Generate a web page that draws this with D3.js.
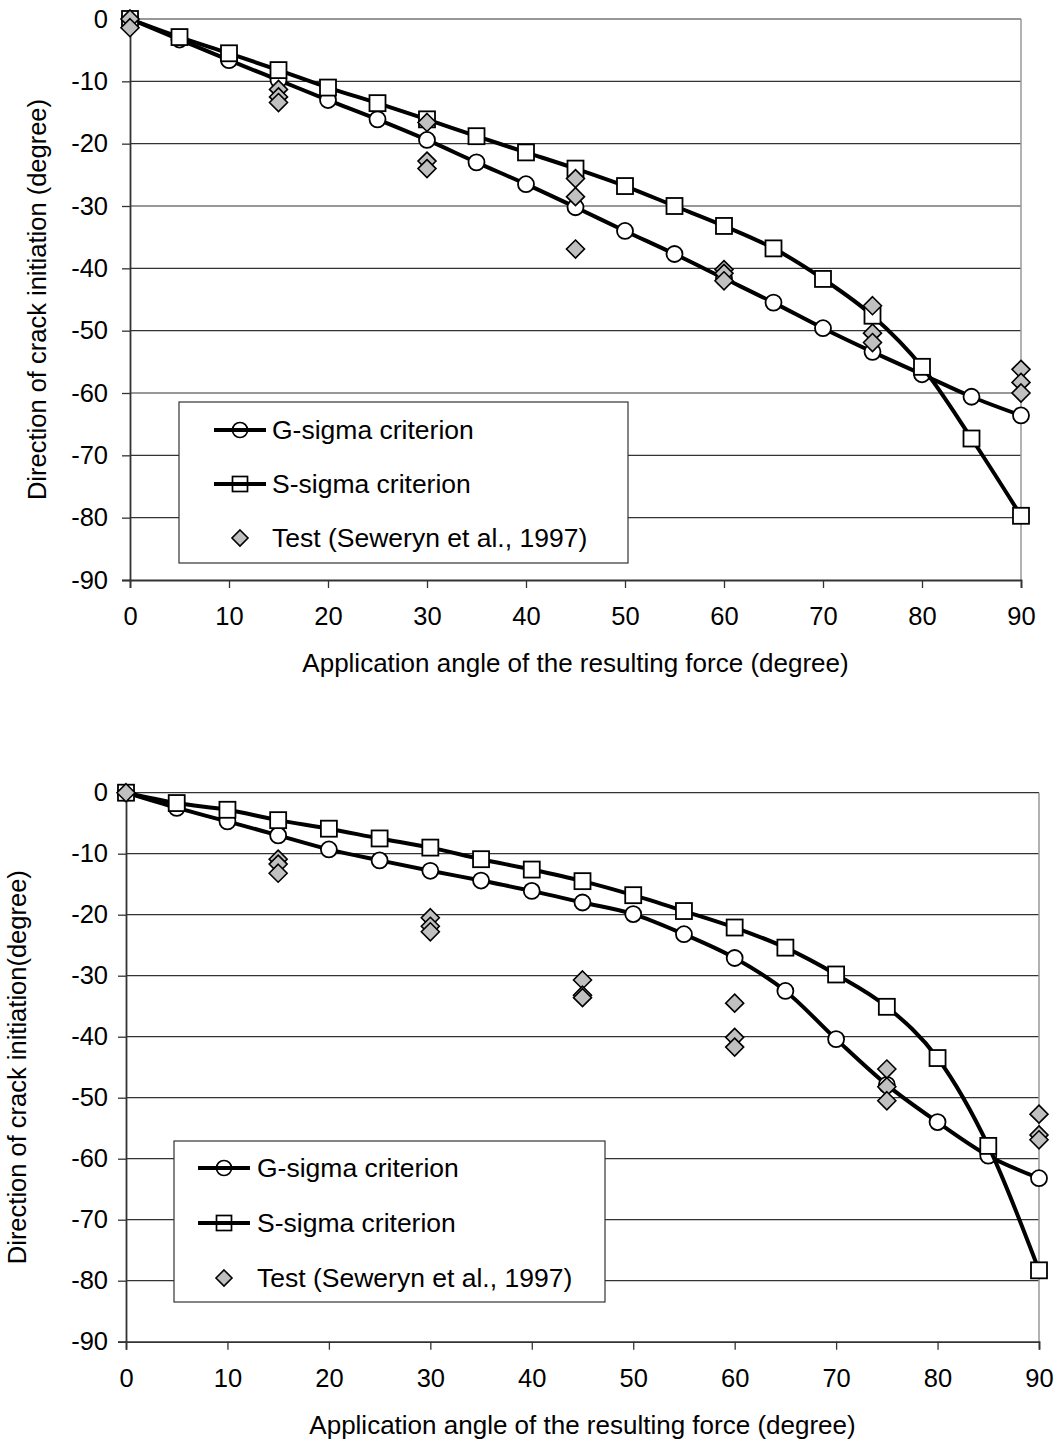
<!DOCTYPE html>
<html>
<head>
<meta charset="utf-8">
<script src="https://cdn.jsdelivr.net/npm/d3@7"></script>
<style>
  body { margin: 0; background: #fff; }
  svg text { font-family: "Liberation Sans", Arial, sans-serif; fill: #000; }
</style>
</head>
<body>
<svg id="chart" width="1061" height="1445"></svg>
<script>
// application angles (degree)
const angles = [0, 5, 10, 15, 20, 25, 30, 35, 40, 45, 50, 55, 60, 65, 70, 75, 80, 85, 90];
const xTicks = [0, 10, 20, 30, 40, 50, 60, 70, 80, 90];
const yTicks = [0, -10, -20, -30, -40, -50, -60, -70, -80, -90];

// upper chart
const gSigmaTop = [0, -3.3, -6.6, -9.8, -13.0, -16.1, -19.4, -23.0, -26.5, -30.2, -34.0, -37.7, -41.6, -45.5, -49.6, -53.4, -57.0, -60.6, -63.6];
const sSigmaTop = [0, -2.9, -5.5, -8.2, -11.0, -13.5, -16.1, -18.8, -21.4, -24.0, -26.8, -30.0, -33.2, -36.8, -41.7, -47.6, -55.8, -67.3, -79.7];
const testAnglesTop = [0, 0, 15, 15, 15, 30, 30, 30, 45, 45, 45, 60, 60, 60, 75, 75, 75, 90, 90, 90];
const testValuesTop = [0, -1.4, -11.3, -12.5, -13.4, -16.6, -22.8, -24.0, -25.6, -28.5, -36.9, -40.2, -40.8, -42.0, -46.0, -50.4, -51.9, -56.2, -58.3, -60.0];

// lower chart
const gSigmaBot = [0, -2.5, -4.7, -7.0, -9.3, -11.1, -12.8, -14.4, -16.1, -18.0, -19.9, -23.2, -27.1, -32.5, -40.4, -47.9, -54.0, -59.5, -63.2];
const sSigmaBot = [0, -1.7, -2.8, -4.5, -5.9, -7.5, -9.0, -10.9, -12.6, -14.5, -16.8, -19.4, -22.1, -25.4, -29.8, -35.1, -43.5, -57.9, -78.3];
const testAnglesBot = [0, 15, 15, 15, 30, 30, 30, 45, 45, 45, 60, 60, 60, 75, 75, 75, 90, 90, 90];
const testValuesBot = [0, -10.9, -11.7, -13.2, -20.5, -21.9, -22.8, -30.7, -33.2, -33.6, -34.5, -40.1, -41.7, -45.3, -48.2, -50.5, -52.7, -56.1, -56.9];

const legendLabels = ['G-sigma criterion', 'S-sigma criterion', 'Test (Seweryn et al., 1997)'];

const svg = d3.select('#chart');

function diamondPath(cx, cy, r) {
    return `M${cx},${cy - r}L${cx + r},${cy}L${cx},${cy + r}L${cx - r},${cy}Z`;
}

function drawChart(cfg) {
    const x = d3.scaleLinear().domain([0, 90]).range([cfg.left, cfg.right]);
    const y = d3.scaleLinear().domain([-90, 0]).range([cfg.bottom, cfg.top]);
    const g = svg.append('g');

    // gridlines
    g.selectAll('.grid')
        .data(yTicks.filter(d => d !== -90))
        .enter().append('line')
        .attr('x1', cfg.left).attr('x2', cfg.right)
        .attr('y1', d => y(d)).attr('y2', d => y(d))
        .attr('stroke', '#333').attr('stroke-width', 1.2);

    // right border of plot
    g.append('line')
        .attr('x1', cfg.right).attr('x2', cfg.right)
        .attr('y1', cfg.top).attr('y2', cfg.bottom)
        .attr('stroke', '#999').attr('stroke-width', 1.5);

    // axes (plain hyphen for negatives, like the original)
    const yAxis = d3.axisLeft(y).tickValues(yTicks).tickSize(8).tickPadding(cfg.yPad).tickFormat(d => String(d));
    const gy = g.append('g').attr('transform', `translate(${cfg.left},0)`).call(yAxis);
    const xAxis = d3.axisBottom(x).tickValues(xTicks).tickSize(8).tickPadding(19).tickFormat(d => String(d));
    const gx = g.append('g').attr('transform', `translate(0,${cfg.bottom})`).call(xAxis);
    [gx, gy].forEach(a => {
        a.select('.domain').attr('stroke', '#333').attr('stroke-width', 1.8);
        a.selectAll('.tick line').attr('stroke', '#333').attr('stroke-width', 1.3);
        a.selectAll('text').attr('font-size', 25.5).attr('font-family', '"Liberation Sans", Arial, sans-serif').attr('fill', '#000');
    });
    gx.selectAll('text').attr('dy', '0.71em');

    // axis titles
    g.append('text')
        .attr('x', (cfg.left + cfg.right) / 2)
        .attr('y', cfg.bottom + 92)
        .attr('text-anchor', 'middle')
        .attr('font-size', 26)
        .text('Application angle of the resulting force (degree)');
    g.append('text')
        .attr('transform', `translate(${cfg.yTitleX},${(cfg.top + cfg.bottom) / 2}) rotate(-90)`)
        .attr('text-anchor', 'middle')
        .attr('font-size', 25.5)
        .text(cfg.yTitle);

    const line = d3.line()
        .x((d, i) => x(angles[i]))
        .y(d => y(d))
        .curve(d3.curveCardinal.tension(0));

    // G-sigma
    g.append('path').attr('d', line(cfg.gSigma))
        .attr('fill', 'none').attr('stroke', '#000').attr('stroke-width', 4);
    g.selectAll('.gm').data(cfg.gSigma).enter().append('circle')
        .attr('cx', (d, i) => x(angles[i])).attr('cy', d => y(d)).attr('r', 8)
        .attr('fill', '#fff').attr('stroke', '#000').attr('stroke-width', 1.8);

    // S-sigma
    g.append('path').attr('d', line(cfg.sSigma))
        .attr('fill', 'none').attr('stroke', '#000').attr('stroke-width', 4);
    g.selectAll('.sm').data(cfg.sSigma).enter().append('rect')
        .attr('x', (d, i) => x(angles[i]) - 8).attr('y', d => y(d) - 8)
        .attr('width', 16).attr('height', 16)
        .attr('fill', '#fff').attr('stroke', '#000').attr('stroke-width', 1.8);

    // test points
    g.selectAll('.tm').data(cfg.testValues).enter().append('path')
        .attr('d', (d, i) => diamondPath(x(cfg.testAngles[i]), y(d), 9))
        .attr('fill', '#c0c0c0').attr('stroke', '#000').attr('stroke-width', 1.6);

    // legend
    const L = cfg.legend;
    const lg = g.append('g');
    lg.append('rect')
        .attr('x', L.x).attr('y', L.y).attr('width', L.w).attr('height', L.h)
        .attr('fill', '#fff').attr('stroke', '#333').attr('stroke-width', 1.2);
    legendLabels.forEach((lab, i) => {
        const cy = L.y + L.firstDy + i * L.step;
        const mx = L.x + L.markerDx;
        if (i < 2) {
            lg.append('line')
                .attr('x1', mx - 26).attr('x2', mx + 26)
                .attr('y1', cy).attr('y2', cy)
                .attr('stroke', '#000').attr('stroke-width', 4);
        }
        if (i === 0) {
            lg.append('circle').attr('cx', mx).attr('cy', cy).attr('r', 7.5)
                .attr('fill', 'none').attr('stroke', '#000').attr('stroke-width', 1.7);
        } else if (i === 1) {
            lg.append('rect').attr('x', mx - 7.5).attr('y', cy - 7.5).attr('width', 15).attr('height', 15)
                .attr('fill', 'none').attr('stroke', '#000').attr('stroke-width', 1.7);
        } else {
            lg.append('path').attr('d', diamondPath(mx, cy, 8))
                .attr('fill', '#c0c0c0').attr('stroke', '#000').attr('stroke-width', 1.6);
        }
        lg.append('text')
            .attr('x', L.x + L.textDx).attr('y', cy)
            .attr('dy', '0.35em')
            .attr('font-size', 26.5)
            .text(lab);
    });
}

drawChart({
    left: 130, right: 1021, top: 19, bottom: 580,
    yPad: 14, yTitleX: 46,
    yTitle: 'Direction of crack initiation (degree)',
    gSigma: gSigmaTop, sSigma: sSigmaTop,
    testAngles: testAnglesTop, testValues: testValuesTop,
    legend: { x: 179, y: 402, w: 449, h: 161, firstDy: 28, step: 54, markerDx: 61, textDx: 93 }
});

drawChart({
    left: 126, right: 1039, top: 792.7, bottom: 1341.7,
    yPad: 10, yTitleX: 26,
    yTitle: 'Direction of crack initiation(degree)',
    gSigma: gSigmaBot, sSigma: sSigmaBot,
    testAngles: testAnglesBot, testValues: testValuesBot,
    legend: { x: 174, y: 1141, w: 431, h: 161, firstDy: 27, step: 55, markerDx: 50, textDx: 83 }
});
</script>
</body>
</html>
